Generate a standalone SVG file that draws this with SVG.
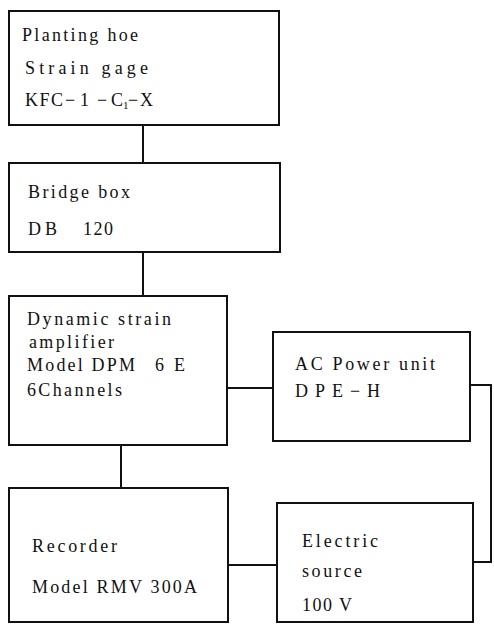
<svg xmlns="http://www.w3.org/2000/svg" width="494" height="624" viewBox="0 0 494 624">
<style>
.box{fill:#fff;stroke:#111;stroke-width:2}
.ln{fill:none;stroke:#111;stroke-width:2}
text{font-family:"Liberation Serif","Times New Roman",serif;font-size:18px;fill:#111}
.sub{font-size:11px}
</style>
<rect width="494" height="624" fill="#fff"/>
<g id="connectors">
<line class="ln" x1="143" y1="125" x2="143" y2="163"/>
<line class="ln" x1="143" y1="252" x2="143" y2="296"/>
<line class="ln" x1="121" y1="445" x2="121" y2="488" stroke-width="1.5"/>
<line class="ln" x1="227" y1="388" x2="273" y2="388"/>
<line class="ln" x1="228" y1="565" x2="277" y2="565"/>
<polyline class="ln" points="470,385 491,385 491,562 473,562"/>
</g>
<g id="strain-gage">
<rect class="box" x="9" y="11" width="270" height="114"/>
<text x="22" y="41" textLength="116" lengthAdjust="spacing">Planting hoe</text>
<text x="25" y="74" textLength="123" lengthAdjust="spacing">Strain gage</text>
<text x="25" y="106" textLength="38" lengthAdjust="spacing">KFC</text>
<text x="65" y="106">−</text>
<text x="80" y="106">1</text>
<text x="97" y="106">−</text>
<text x="111" y="106">C</text>
<text class="sub" x="123" y="109">1</text>
<text x="128" y="106">−</text>
<text x="140" y="106">X</text>
</g>
<g id="bridge-box">
<rect class="box" x="9" y="163" width="271" height="89"/>
<text x="28" y="198" textLength="102" lengthAdjust="spacing">Bridge box</text>
<text x="28" y="235" textLength="29" lengthAdjust="spacing">DB</text>
<text x="83" y="235" textLength="30" lengthAdjust="spacing">120</text>
</g>
<g id="amplifier">
<rect class="box" x="9" y="296" width="218" height="149"/>
<text x="27" y="325" textLength="144" lengthAdjust="spacing">Dynamic strain</text>
<text x="29" y="348" textLength="85" lengthAdjust="spacing">amplifier</text>
<text x="27" y="371" textLength="108" lengthAdjust="spacing">Model DPM</text>
<text x="155" y="371" textLength="30" lengthAdjust="spacing">6 E</text>
<text x="27" y="396" textLength="95" lengthAdjust="spacing">6Channels</text>
</g>
<g id="ac-power">
<rect class="box" x="273" y="332" width="197" height="109"/>
<text x="295" y="370" textLength="140" lengthAdjust="spacing">AC Power unit</text>
<text x="295" y="397" textLength="85" lengthAdjust="spacing">DPE−H</text>
</g>
<g id="recorder">
<rect class="box" x="9" y="488" width="219" height="134"/>
<text x="32" y="552" textLength="85" lengthAdjust="spacing">Recorder</text>
<text x="32" y="593" textLength="165" lengthAdjust="spacing">Model RMV 300A</text>
</g>
<g id="electric-source">
<rect class="box" x="277" y="503" width="196" height="119"/>
<text x="302" y="547" textLength="76" lengthAdjust="spacing">Electric</text>
<text x="302" y="577" textLength="60" lengthAdjust="spacing">source</text>
<text x="302" y="611" textLength="50" lengthAdjust="spacing">100 V</text>
</g>
</svg>
